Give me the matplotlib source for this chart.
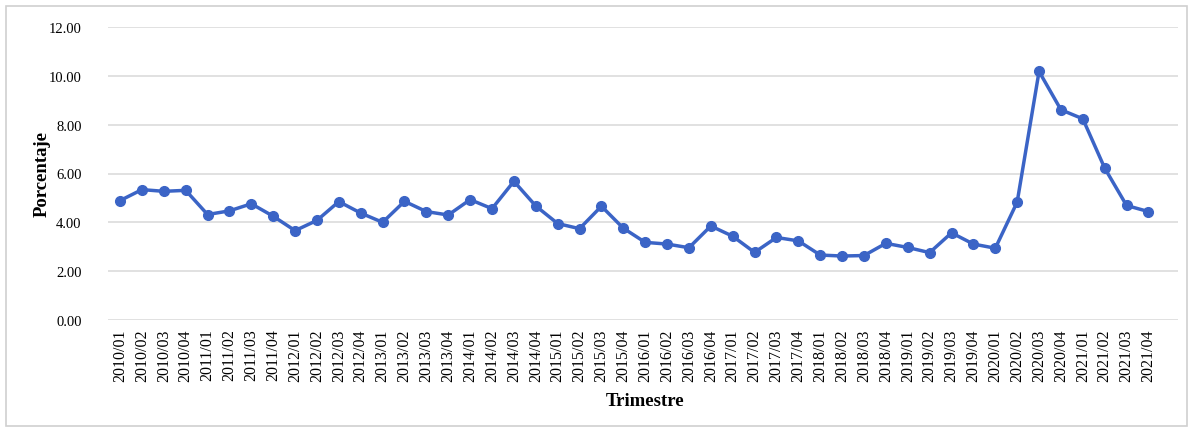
import numpy as np
import matplotlib
matplotlib.use("Agg")
import matplotlib.pyplot as plt
from matplotlib.patches import Rectangle

# quarterly series, 2010/01 .. 2021/04
years = list(range(2010, 2022))
quarters = [f"{y}/{q:02d}" for y in years for q in range(1, 5)]
valores = [4.89, 5.34, 5.27, 5.31, 4.32, 4.47, 4.76, 4.25,
           3.66, 4.08, 4.85, 4.38, 4.00, 4.86, 4.44, 4.30,
           4.93, 4.56, 5.68, 4.67, 3.95, 3.74, 4.66, 3.76,
           3.18, 3.11, 2.96, 3.85, 3.43, 2.77, 3.38, 3.24,
           2.66, 2.62, 2.64, 3.14, 2.97, 2.76, 3.57, 3.11,
           2.94, 4.83, 10.18, 8.61, 8.24, 6.22, 4.69, 4.44]
yticks = [0, 2, 4, 6, 8, 10, 12]

plt.rcParams["font.family"] = ["Liberation Serif", "DejaVu Serif"]

fig = plt.figure(figsize=(11.91, 4.31), dpi=100)
ax = fig.add_axes([108/1191, 110/431, 1070/1191, 293/431])

x = np.arange(len(quarters))
ax.plot(x, valores, color="#3b64c6", lw=2.5, marker="o", ms=7,
        mfc="#3b64c6", mec="#3b64c6", solid_joinstyle="round")

ax.set_ylim(0, 12)
ax.set_xlim(-0.55, 48.35)
ax.set_yticks(yticks)
ax.set_yticklabels([f"{v:.2f}" for v in yticks], fontsize=10.5)
ax.set_xticks(x)
ax.set_xticklabels(quarters, rotation=90, fontsize=11.5)
ax.tick_params(axis="y", length=0, pad=19)
ax.tick_params(axis="x", length=0, pad=6)
ax.grid(axis="y", color="#d9d9d9", lw=1.1)
ax.set_axisbelow(True)
for s in ax.spines.values():
    s.set_visible(False)

fig.text(42/1191, 1 - 174/431, "Porcentaje", rotation=90, ha="center",
         va="center", fontsize=13.5, fontweight="bold")
fig.text(645/1191, 1 - 402/431, "Trimestre", ha="center", va="center",
         fontsize=13.5, fontweight="bold")

# light frame around the chart area
fig.patches.append(Rectangle((6/1191, 4/431), 1181/1191, 420/431,
                             transform=fig.transFigure, fill=False,
                             ec="#d0d0d0", lw=1.2))

fig.savefig("out.png", dpi=100)
